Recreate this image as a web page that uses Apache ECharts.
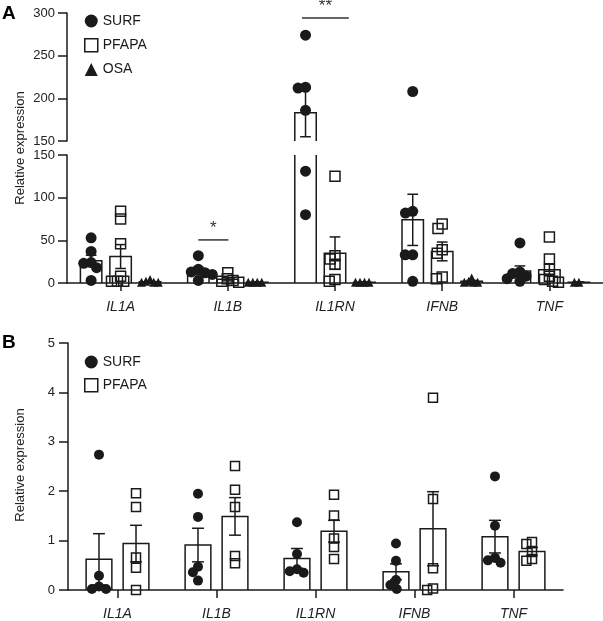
<!DOCTYPE html>
<html><head><meta charset="utf-8">
<script src="https://cdn.jsdelivr.net/npm/echarts@6/dist/echarts.min.js"></script>
<style>html,body{margin:0;padding:0;background:#fff}#c{width:603px;height:621px}</style>
</head><body><div id="c"></div>
<script>
// ---------------- DATA ----------------
const categories = ['IL1A', 'IL1B', 'IL1RN', 'IFNB', 'TNF'];
const groupsA = ['SURF', 'PFAPA', 'OSA'];
const groupsB = ['SURF', 'PFAPA'];
const yTicksAUpper = [150, 200, 250, 300];
const yTicksALower = [0, 50, 100, 150];
const yTicksB = [0, 1, 2, 3, 4, 5];

// Panel A – individual values
const aSurfPoints  = [[53, 37, 24, 23, 18, 3], [32, 16, 13, 12, 10, 3], [274, 213, 212, 186, 131, 80], [208, 84, 82, 33, 33, 2], [47, 13, 11, 8, 5, 2]];
const aPfapaPoints = [[84, 75, 46, 8, 2, 2, 2], [12, 5, 3, 2, 1], [125, 32, 28, 22, 4, 2], [69, 64, 39, 35, 7, 5], [54, 28, 16, 8, 4, 2, 1]];
const aOsaPoints   = [[1, 1, 1, 2, 4], [1, 1, 1, 1], [1, 1, 1, 1], [1, 1, 1, 2, 6], [1, 1]];
// Panel A – bar means and SEM
const aSurfMean  = [26, 14, 183, 74, 14];
const aSurfSem   = [6.5, 4.5, 28, 30, 6];
const aPfapaMean = [31, 4.5, 35, 37, 15.5];
const aPfapaSem  = [14, 2, 19, 11, 7];
const aOsaMean   = [1.5, 1, 1, 2, 1];
const aOsaSem    = [0.6, 0.2, 0.2, 1, 0.2];

// Panel B – individual values
const bSurfPoints  = [[2.74, 0.29, 0.07, 0.02, 0.02], [1.95, 1.48, 0.47, 0.36, 0.19], [1.37, 0.73, 0.42, 0.38, 0.35], [0.94, 0.59, 0.2, 0.1, 0.02], [2.3, 1.3, 0.65, 0.6, 0.55]];
const bPfapaPoints = [[1.96, 1.68, 0.66, 0.45, 0], [2.51, 2.03, 1.68, 0.69, 0.54], [1.93, 1.51, 1.04, 0.87, 0.63], [3.89, 1.84, 0.44, 0.03, 0], [0.97, 0.93, 0.77, 0.63, 0.59]];
// Panel B – bar means and SEM
const bSurfMean  = [0.62, 0.91, 0.64, 0.37, 1.08];
const bSurfSem   = [0.52, 0.34, 0.2, 0.16, 0.33];
const bPfapaMean = [0.94, 1.49, 1.19, 1.24, 0.78];
const bPfapaSem  = [0.37, 0.38, 0.22, 0.75, 0.08];

// Significance marks (panel A)
const sigCats   = [1, 2];
const sigLevels = [50.5, 294];
const sigLabels = ['*', '**'];

// ---------------- STYLE / LAYOUT ----------------
const FONT = '"Liberation Sans", Arial, Helvetica, sans-serif';
const INK = '#1a1a1a';
const gA_up = { left: 67, top: 13, width: 536, height: 128 };
const gA_lo = { left: 67, top: 155, width: 536, height: 128 };
const gB    = { left: 68, top: 343, width: 495, height: 250 };
const pxA = gA_lo.height / 150;
const pxB = gB.height / 5;
const offA = [-0.275, 0, 0.275];
const offB = [-0.187, 0.187];
const barWA = 0.2, barWB = 0.26;
const capA = 0.1, capB = 0.12;
const sigSpan = [[-1, 0.02], [-1.12, 0.47]];

const symStyle = {
  SURF:  { symbol: 'circle', itemStyle: { color: INK, opacity: 1 } },
  PFAPA: { symbol: 'rect', itemStyle: { color: 'rgba(255,255,255,0)', borderColor: INK, borderWidth: 1.5, opacity: 1 } },
  OSA:   { symbol: 'triangle', itemStyle: { color: INK, opacity: 1 } }
};

// simple beeswarm: horizontal offsets (px) so markers do not pile up
function swarm(values, pxPerUnit, d) {
  const order = values.map((v, i) => i).sort((a, b) => values[b] - values[a]);
  const placed = [], off = new Array(values.length).fill(0);
  order.forEach(i => {
    const y = values[i] * pxPerUnit;
    const forb = [];
    placed.forEach(p => {
      const dy = Math.abs(p.y - y);
      if (dy < d) { const w = Math.sqrt(d * d - dy * dy); forb.push([p.x - w, p.x + w]); }
    });
    const cands = [0];
    forb.forEach(f => cands.push(f[0], f[1]));
    cands.sort((a, b) => (Math.abs(a) - Math.abs(b)) || (a - b));
    let x = 0;
    for (const c of cands) {
      if (!forb.some(f => c > f[0] + 1e-6 && c < f[1] - 1e-6)) { x = c; break; }
    }
    placed.push({ x, y });
    off[i] = x;
  });
  return off;
}

function pointData(pointsByCat, offsetPx, pxPerUnit, d, keep) {
  const out = [];
  pointsByCat.forEach((vals, ci) => {
    const jit = swarm(vals, pxPerUnit, d);
    vals.forEach((v, k) => { if (keep(v)) out.push({ value: [ci, v], symbolOffset: [offsetPx + jit[k], 0] }); });
  });
  return out;
}

const lineSt = { stroke: INK, lineWidth: 1.5, fill: 'none' };

function barItem(offFrac, wFrac) {
  return function (params, api) {
    const cs = params.coordSys;
    const band = api.size([1, 0])[0];
    const c = api.coord([api.value(0), api.value(1)]);
    const cx = c[0] + offFrac * band, half = wFrac * band / 2;
    const base = cs.y + cs.height;
    let top = c[1];
    if (top >= base - 0.01) return null;
    const clipped = top < cs.y;
    if (clipped) top = cs.y;
    const x0 = cx - half, x1 = cx + half;
    if (!clipped) return { type: 'polyline', shape: { points: [[x0, base], [x0, top], [x1, top], [x1, base]] }, style: lineSt };
    return { type: 'group', children: [
      { type: 'line', shape: { x1: x0, y1: base, x2: x0, y2: top }, style: lineSt },
      { type: 'line', shape: { x1: x1, y1: base, x2: x1, y2: top }, style: lineSt }] };
  };
}

function errItem(offFrac, capFrac) {
  return function (params, api) {
    const cs = params.coordSys;
    const band = api.size([1, 0])[0];
    const ci = api.value(0), m = api.value(1), e = api.value(2);
    const cx = api.coord([ci, m])[0] + offFrac * band;
    const yHi = api.coord([ci, m + e])[1], yLo = api.coord([ci, m - e])[1];
    const top = cs.y, bot = cs.y + cs.height;
    if (yLo < top || yHi > bot) return null;
    const hw = capFrac * band / 2;
    const ch = [{ type: 'line', shape: { x1: cx, y1: Math.max(yHi, top), x2: cx, y2: Math.min(yLo, bot) }, style: lineSt }];
    if (yHi >= top) ch.push({ type: 'line', shape: { x1: cx - hw, y1: yHi, x2: cx + hw, y2: yHi }, style: lineSt });
    if (yLo <= bot) ch.push({ type: 'line', shape: { x1: cx - hw, y1: yLo, x2: cx + hw, y2: yLo }, style: lineSt });
    return { type: 'group', children: ch };
  };
}

function sigItem(params, api) {
  const cs = params.coordSys;
  const idx = params.dataIndex;
  const band = api.size([1, 0])[0];
  const c = api.coord([api.value(0), api.value(1)]);
  if (c[1] < cs.y - 20 || c[1] > cs.y + cs.height) return null;
  const x0 = c[0] + sigSpan[idx][0] * offA[2] * band;
  const x1 = c[0] + sigSpan[idx][1] * offA[2] * band;
  return { type: 'group', children: [
    { type: 'line', shape: { x1: x0, y1: c[1], x2: x1, y2: c[1] }, style: { stroke: '#333', lineWidth: 1.5 } },
    { type: 'text', style: { text: sigLabels[idx], x: (x0 + x1) / 2, y: c[1] - 3, align: 'center', verticalAlign: 'bottom', fontSize: 17, fontFamily: FONT, fill: '#333' } }
  ] };
}

function yAxisCfg(gridIndex, ticks, margin) {
  return {
    type: 'value', gridIndex, min: ticks[0], max: ticks[ticks.length - 1], interval: ticks[1] - ticks[0],
    axisLine: { show: true, lineStyle: { color: INK, width: 1.5 } },
    axisTick: { show: true, length: 9, lineStyle: { color: INK, width: 1.5 } },
    axisLabel: { fontSize: 13, color: '#222', margin, fontFamily: FONT },
    splitLine: { show: false }
  };
}
function xAxisCfg(gridIndex, show) {
  return {
    type: 'category', gridIndex, data: categories, boundaryGap: true, show,
    axisLine: { show: true, onZero: false, lineStyle: { color: INK, width: 1.5 } },
    axisTick: { show: true, alignWithLabel: true, length: 8, lineStyle: { color: INK, width: 1.5 } },
    axisLabel: { fontStyle: 'italic', fontSize: 14, color: '#222', margin: 17, fontFamily: FONT },
    splitLine: { show: false }
  };
}

const series = [];
const bandA = gA_lo.width / categories.length;
const bandB = gB.width / categories.length;

// Panel A: axis index 0 = upper (150-300), 1 = lower (0-150)
const aPts = [aSurfPoints, aPfapaPoints, aOsaPoints];
const aMean = [aSurfMean, aPfapaMean, aOsaMean];
const aSem = [aSurfSem, aPfapaSem, aOsaSem];
const sizeA = { SURF: 11, PFAPA: 10, OSA: 9 };
const dA = { SURF: 7.5, PFAPA: 6, OSA: 4.5 };
[0, 1].forEach(ax => {
  const keep = ax === 0 ? (v => v > 150) : (v => v <= 150);
  groupsA.forEach((g, gi) => {
    series.push({ type: 'custom', name: g + '_bar', xAxisIndex: ax, yAxisIndex: ax, z: 2, silent: true,
      renderItem: barItem(offA[gi], barWA), data: categories.map((c, i) => [i, aMean[gi][i]]) });
    series.push({ type: 'custom', name: g + '_err', xAxisIndex: ax, yAxisIndex: ax, z: 3, silent: true,
      renderItem: errItem(offA[gi], capA), data: categories.map((c, i) => [i, aMean[gi][i], aSem[gi][i]]) });
    series.push(Object.assign({ type: 'scatter', name: g, xAxisIndex: ax, yAxisIndex: ax, z: 4, symbolSize: sizeA[g],
      data: pointData(aPts[gi], offA[gi] * bandA, pxA, dA[g], keep) }, JSON.parse(JSON.stringify(symStyle[g]))));
  });
  series.push({ type: 'custom', name: 'sig', xAxisIndex: ax, yAxisIndex: ax, z: 5, silent: true,
    renderItem: sigItem, data: sigCats.map((c, i) => (ax === 0) === (sigLevels[i] > 150) ? [c, sigLevels[i]] : [c, -1000]) });
});

// Panel B: axis index 2
const bPts = [bSurfPoints, bPfapaPoints];
const bMean = [bSurfMean, bPfapaMean];
const bSem = [bSurfSem, bPfapaSem];
const sizeB = { SURF: 10, PFAPA: 9 };
const dB = { SURF: 7.5, PFAPA: 6 };
groupsB.forEach((g, gi) => {
  series.push({ type: 'custom', name: g + '_barB', xAxisIndex: 2, yAxisIndex: 2, z: 2, silent: true,
    renderItem: barItem(offB[gi], barWB), data: categories.map((c, i) => [i, bMean[gi][i]]) });
  series.push({ type: 'custom', name: g + '_errB', xAxisIndex: 2, yAxisIndex: 2, z: 3, silent: true,
    renderItem: errItem(offB[gi], capB), data: categories.map((c, i) => [i, bMean[gi][i], bSem[gi][i]]) });
  series.push(Object.assign({ type: 'scatter', name: g, xAxisIndex: 2, yAxisIndex: 2, z: 4, symbolSize: sizeB[g],
    data: pointData(bPts[gi], offB[gi] * bandB, pxB, dB[g], v => true) }, JSON.parse(JSON.stringify(symStyle[g]))));
});

const legendText = { fontSize: 14, color: INK, fontFamily: FONT };
const legendItem = name => ({ name, icon: symStyle[name].symbol, itemStyle: symStyle[name].itemStyle });

const option = {
  animation: false,
  backgroundColor: '#fff',
  grid: [gA_up, gA_lo, gB].map(g => Object.assign({ containLabel: false }, g)),
  xAxis: [xAxisCfg(0, false), xAxisCfg(1, true), xAxisCfg(2, true)],
  yAxis: [yAxisCfg(0, yTicksAUpper, 12), yAxisCfg(1, yTicksALower, 12), yAxisCfg(2, yTicksB, 13)],
  legend: [
    { orient: 'vertical', left: 84, top: 14, padding: 0, itemWidth: 13, itemHeight: 13, itemGap: 10, selectedMode: false,
      textStyle: legendText, data: groupsA.map(legendItem) },
    { orient: 'vertical', left: 84, top: 355, padding: 0, itemWidth: 13, itemHeight: 13, itemGap: 9, selectedMode: false,
      textStyle: legendText, data: groupsB.map(legendItem) }
  ],
  graphic: [
    { type: 'text', left: 2, top: 4, style: { text: 'A', fontSize: 19, fontWeight: 'bold', fontFamily: FONT, fill: '#000' } },
    { type: 'text', left: 2, top: 333, style: { text: 'B', fontSize: 19, fontWeight: 'bold', fontFamily: FONT, fill: '#000' } },
    { type: 'text', x: 20, y: 148, rotation: Math.PI / 2,
      style: { text: 'Relative expression', align: 'center', verticalAlign: 'middle', fontSize: 13, fontFamily: FONT, fill: '#222' } },
    { type: 'text', x: 20, y: 465, rotation: Math.PI / 2,
      style: { text: 'Relative expression', align: 'center', verticalAlign: 'middle', fontSize: 13, fontFamily: FONT, fill: '#222' } }
  ],
  series
};

const chart = echarts.init(document.getElementById('c'), null, { renderer: 'canvas' });
chart.setOption(option);
</script>
</body></html>
